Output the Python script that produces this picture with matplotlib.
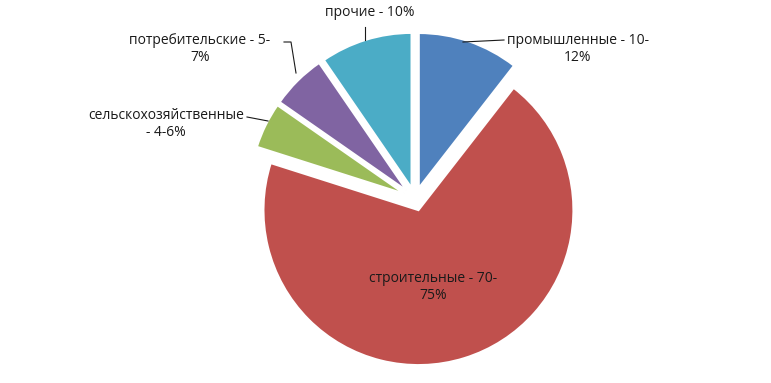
import matplotlib.pyplot as plt

categories = ["промышленные", "строительные", "сельскохозяйственные",
              "потребительские", "прочие"]
values = [11, 72.5, 5, 6, 10]
labels = ["промышленные - 10-\n12%", "строительные - 70-\n75%",
          "сельскохозяйственные\n- 4-6%", "потребительские - 5-\n7%",
          "прочие - 10%"]
colors = ["#4F81BD", "#C0504D", "#9BBB59", "#8064A2", "#4BACC6"]

W, H = 771, 383
CX, CY, R = 415, 199, 155


def px(x, y):
    # pixel position (from top-left) -> data coords
    return (x - CX) / R, (CY - y) / R


fig = plt.figure(figsize=(W / 100, H / 100), dpi=100)
ax = fig.add_axes([0, 0, 1, 1])
ax.pie(values, colors=colors, startangle=90, counterclock=False,
       explode=[0.075] * len(values), radius=1.0,
       wedgeprops=dict(edgecolor="white", linewidth=1.5))
ax.set_xlim(px(0, 0)[0], px(W, 0)[0])
ax.set_ylim(px(0, H)[1], px(0, 0)[1])
ax.set_aspect("auto")
ax.axis("off")

font = dict(family=["Open Sans", "DejaVu Sans"], fontsize=10, color="#1a1a1a")

# label positions (pixel) and leader lines
ax.text(*px(578, 49), labels[0], ha="center", va="center", **font)
ax.text(*px(433, 287), labels[1], ha="center", va="center", **font)
ax.text(*px(166, 124), labels[2], ha="center", va="center", **font)
ax.text(*px(200, 49), labels[3], ha="center", va="center", **font)
ax.text(*px(370, 12), labels[4], ha="center", va="center", **font)

leaders = [
    [(463, 42), (504, 40)],
    [(247, 117), (268, 121)],
    [(284, 42), (291, 42), (296, 73)],
    [(365, 27), (365, 40)],
]
for pts in leaders:
    xs, ys = zip(*[px(x, y) for x, y in pts])
    ax.plot(xs, ys, color="#1a1a1a", linewidth=0.8)

fig.savefig("out.png", dpi=100, facecolor="white")
